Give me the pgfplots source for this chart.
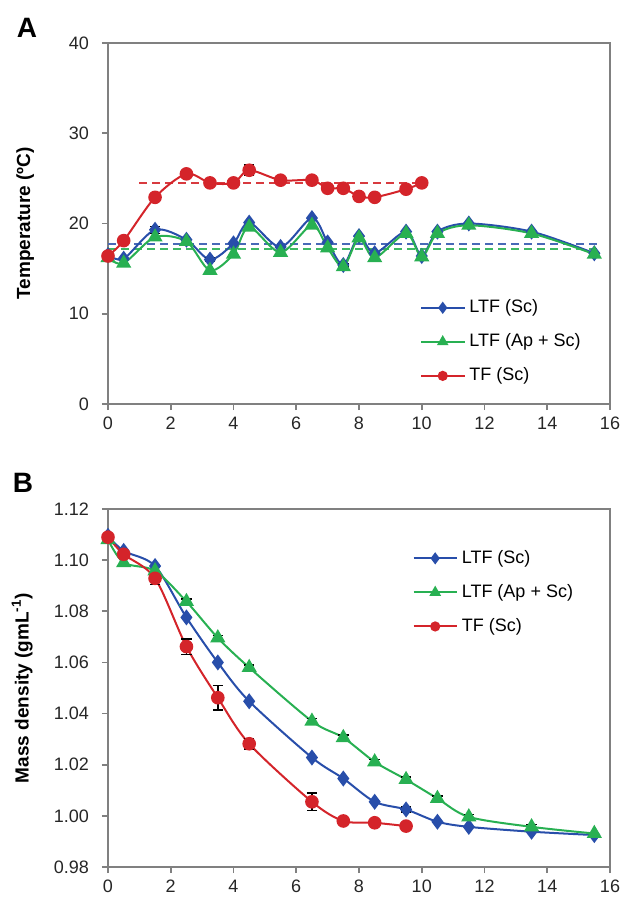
\documentclass[border=0pt]{standalone}
\usepackage{fontspec}
\setmainfont{Liberation Sans}
\usepackage{pgfplots}
\pgfplotsset{compat=1.18}

\definecolor{ltfblue}{RGB}{40,78,170}
\definecolor{ltfgreen}{RGB}{40,176,82}
\definecolor{tfred}{RGB}{212,36,42}

\pgfplotsset{
  panel/.style={
    scale only axis, width=251pt, height=180.5pt,
    xmin=0, xmax=16, xtick={0,2,...,16},
    axis line style={gray, line width=0.8pt},
    tick style={gray, line width=0.8pt},
    tick align=outside, tick pos=left, major tick length=3pt,
    tick label style={font=\fontsize{9}{11}\selectfont, text=black!85},
    yticklabel style={xshift=-3pt},
    /pgf/number format/assume math mode=true,
    label style={font=\bfseries\fontsize{9.5}{11}\selectfont},
    legend style={draw=none, fill=none, font=\fontsize{9}{11}\selectfont,
                  row sep=5pt, anchor=north west},
    legend cell align=left,
    legend image code/.code={
      \draw[mark repeat=2,mark phase=2,#1,every mark/.append style={scale=0.7}]
        plot coordinates {(0cm,0cm) (0.38cm,0cm) (0.76cm,0cm)};},
  },
  sblue/.style={ltfblue, line width=1pt, smooth, mark=diamond*, mark size=3.2pt,
                mark options={solid, fill=ltfblue}},
  sgreen/.style={ltfgreen, line width=1pt, smooth, mark=triangle*, mark size=3.4pt,
                 mark options={solid, fill=ltfgreen}},
  sred/.style={tfred, line width=1pt, smooth, mark=*, mark size=2.9pt,
               mark options={solid, fill=tfred}},
  ebars/.style={draw=none, mark=none, forget plot,
    error bars/.cd, y dir=both, y explicit,
    error bar style={draw=black, line width=0.7pt},
    error mark options={draw=black, rotate=90, mark size=2.6pt, line width=0.7pt}},
}

\begin{document}
\begin{tikzpicture}
\path (-54pt,21.5pt) rectangle (258pt,-430pt);

% ---- panel A: temperature
\begin{axis}[panel, name=pa, at={(0pt,0pt)}, anchor=north west,
  ymin=0, ymax=40, ytick={0,10,...,40},
  ylabel={Temperature (ºC)},
  ylabel style={at={(axis description cs:-0.165,0.5)}, anchor=center},
  legend style={at={(0.609,0.312)}},
]
  % mean lines
  \addplot[forget plot, ltfblue!85, line width=1pt, dash pattern=on 4pt off 2.5pt]
    coordinates {(0,17.7)(15.6,17.7)};
  \addplot[forget plot, ltfgreen!90, line width=1pt, dash pattern=on 4pt off 2.5pt]
    coordinates {(0,17.2)(15.6,17.2)};
  \addplot[forget plot, tfred!90, line width=1pt, dash pattern=on 4pt off 2.5pt]
    coordinates {(1,24.5)(10.2,24.5)};

  \addplot[sblue] coordinates {
    (0,16.5)(0.5,16.1)(1.5,19.3)(2.5,18.2)(3.25,16.0)(4,17.8)(4.5,20.1)
    (5.5,17.4)(6.5,20.6)(7,17.9)(7.5,15.4)(8,18.6)(8.5,16.7)(9.5,19.1)
    (10,16.4)(10.5,19.1)(11.5,20.0)(13.5,19.1)(15.5,16.7)};
  \addlegendentry{LTF (Sc)}
  \addplot[sgreen] coordinates {
    (0,16.2)(0.5,15.6)(1.5,18.5)(2.5,18.0)(3.25,14.8)(4,16.6)(4.5,19.6)
    (5.5,16.8)(6.5,19.8)(7,17.3)(7.5,15.2)(8,18.4)(8.5,16.2)(9.5,18.9)
    (10,16.3)(10.5,18.9)(11.5,19.8)(13.5,18.9)(15.5,16.6)};
  \addlegendentry{LTF (Ap + Sc)}
  \addplot[sred] coordinates {
    (0,16.4)(0.5,18.1)(1.5,22.9)(2.5,25.5)(3.25,24.5)(4,24.5)(4.5,25.9)
    (5.5,24.8)(6.5,24.8)(7,23.9)(7.5,23.9)(8,23.0)(8.5,22.9)(9.5,23.8)(10,24.5)};
  \addlegendentry{TF (Sc)}

  \addplot[ebars] coordinates {
    (1.5,19.3) +- (0,0.4)
    (1.5,22.9) +- (0,0.3)
    (4.5,25.9) +- (0,0.6)
    (7.5,15.4) +- (0,0.2)
    (3.25,16.0) +- (0,0.2)};
\end{axis}

% ---- panel B: mass density
\begin{axis}[panel, name=pb, at={(0pt,-233pt)}, anchor=north west,
  height=179pt,
  ymin=0.98, ymax=1.12, ytick={0.98,1.00,...,1.121},
  yticklabel style={/pgf/number format/.cd, fixed, fixed zerofill, precision=2},
  ylabel={Mass density (gmL\textsuperscript{-1})},
  ylabel style={at={(axis description cs:-0.171,0.5)}, anchor=center},
  legend style={at={(0.594,0.908)}},
]
  \addplot[sblue] coordinates {
    (0,1.1095)(0.5,1.1036)(1.5,1.0977)(2.5,1.0776)(3.5,1.0600)(4.5,1.0448)
    (6.5,1.0228)(7.5,1.0146)(8.5,1.0055)(9.5,1.0025)(10.5,0.9977)
    (11.5,0.9957)(13.5,0.9938)(15.5,0.9925)};
  \addlegendentry{LTF (Sc)}
  \addplot[sgreen] coordinates {
    (0,1.1080)(0.5,1.0990)(1.5,1.0958)(2.5,1.0838)(3.5,1.0696)(4.5,1.0580)
    (6.5,1.0370)(7.5,1.0306)(8.5,1.0211)(9.5,1.0142)(10.5,1.0068)
    (11.5,0.9996)(13.5,0.9957)(15.5,0.9931)};
  \addlegendentry{LTF (Ap + Sc)}
  \addplot[sred] coordinates {
    (0,1.1090)(0.5,1.1023)(1.5,1.0929)(2.5,1.0662)(3.5,1.0462)(4.5,1.0282)
    (6.5,1.0055)(7.5,0.9980)(8.5,0.9973)(9.5,0.9960)};
  \addlegendentry{TF (Sc)}

  \addplot[ebars] coordinates {
    (1.5,1.0929) +- (0,0.0025)
    (2.5,1.0662) +- (0,0.003)
    (3.5,1.0462) +- (0,0.0048)
    (4.5,1.0282) +- (0,0.002)
    (6.5,1.0055) +- (0,0.0035)
    (7.5,0.9980) +- (0,0.0012)
    (2.5,1.0838) +- (0,0.001)
    (3.5,1.0696) +- (0,0.001)
    (4.5,1.0580) +- (0,0.001)
    (6.5,1.0370) +- (0,0.001)
    (7.5,1.0306) +- (0,0.001)
    (8.5,1.0211) +- (0,0.001)
    (9.5,1.0142) +- (0,0.001)
    (10.5,1.0068) +- (0,0.001)
    (11.5,0.9996) +- (0,0.001)
    (13.5,0.9957) +- (0,0.001)
    (9.5,1.0025) +- (0,0.001)};
\end{axis}

\node[font=\bfseries\fontsize{14}{16}\selectfont] at (-40.5pt,7.5pt) {A};
\node[font=\bfseries\fontsize{14}{16}\selectfont] at (-42.5pt,-220pt) {B};
\end{tikzpicture}
\end{document}
